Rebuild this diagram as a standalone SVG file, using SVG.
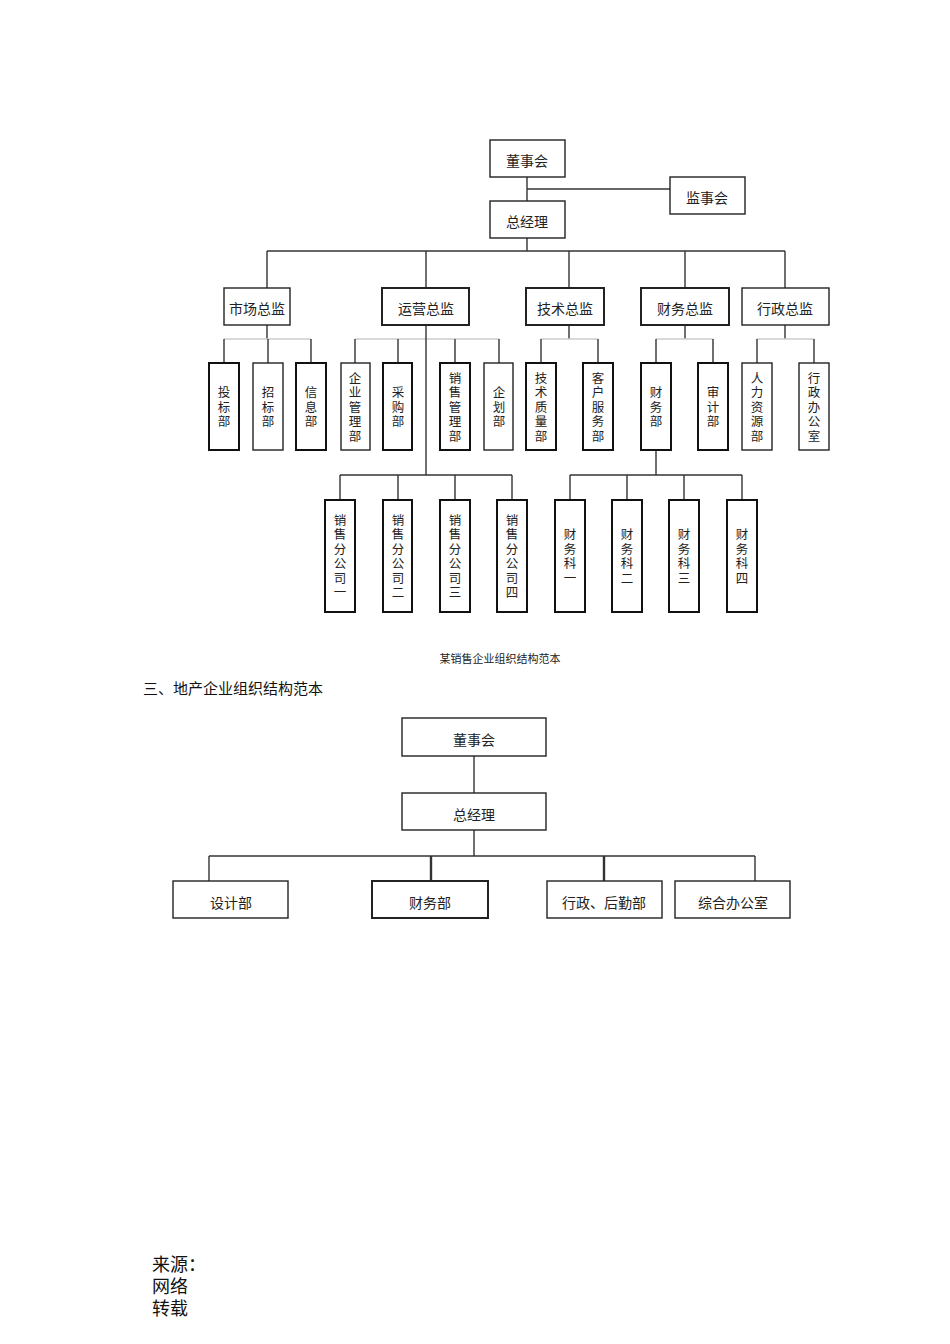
<svg xmlns="http://www.w3.org/2000/svg" width="950" height="1344" viewBox="0 0 950 1344">
<style>
.b{fill:#fff;stroke:#222;stroke-width:1.4}
.v{fill:#fff;stroke:#111;stroke-width:2}
.t{font-family:"Noto Sans CJK SC","Noto Sans",sans-serif;font-size:14px;fill:#222;text-anchor:middle}
g[id] tspan{font-size:12.5px}
.c line,.c polyline{stroke:#333;stroke-width:1.4;fill:none}
</style>
<rect width="950" height="1344" fill="#fff"/>
<g class="c" id="connectors">
<line x1="527" y1="177" x2="527" y2="201"/><line x1="527" y1="189" x2="670" y2="189"/>
<line x1="527" y1="238" x2="527" y2="251"/><line x1="267" y1="251" x2="785" y2="251"/>
<line x1="267" y1="251" x2="267" y2="288"/><line x1="426" y1="251" x2="426" y2="288"/><line x1="569" y1="251" x2="569" y2="288"/><line x1="685" y1="251" x2="685" y2="288"/><line x1="785" y1="251" x2="785" y2="288"/>
<line x1="267" y1="325" x2="267" y2="339"/><line x1="224" y1="339" x2="311" y2="339" style="stroke:#ccc"/>
<line x1="224" y1="339" x2="224" y2="363"/><line x1="268" y1="339" x2="268" y2="363"/><line x1="311" y1="339" x2="311" y2="363"/>
<line x1="355" y1="339" x2="499" y2="339" style="stroke:#ccc"/>
<line x1="355" y1="339" x2="355" y2="363"/><line x1="398" y1="339" x2="398" y2="363"/><line x1="455" y1="339" x2="455" y2="363"/><line x1="499" y1="339" x2="499" y2="363"/>
<line x1="426" y1="325" x2="426" y2="475"/>
<line x1="569" y1="325" x2="569" y2="339"/><line x1="541" y1="339" x2="598" y2="339" style="stroke:#ccc"/>
<line x1="541" y1="339" x2="541" y2="363"/><line x1="598" y1="339" x2="598" y2="363"/>
<line x1="685" y1="325" x2="685" y2="339"/><line x1="656" y1="339" x2="713" y2="339" style="stroke:#ccc"/>
<line x1="656" y1="339" x2="656" y2="363"/><line x1="713" y1="339" x2="713" y2="363"/>
<line x1="785" y1="325" x2="785" y2="339"/><line x1="757" y1="339" x2="814" y2="339" style="stroke:#ccc"/>
<line x1="757" y1="339" x2="757" y2="363"/><line x1="814" y1="339" x2="814" y2="363"/>
<line x1="340" y1="475" x2="512" y2="475"/>
<line x1="340" y1="475" x2="340" y2="500"/><line x1="398" y1="475" x2="398" y2="500"/><line x1="455" y1="475" x2="455" y2="500"/><line x1="512" y1="475" x2="512" y2="500"/>
<line x1="656" y1="450" x2="656" y2="475"/><line x1="570" y1="475" x2="742" y2="475"/>
<line x1="570" y1="475" x2="570" y2="500"/><line x1="627" y1="475" x2="627" y2="500"/><line x1="684" y1="475" x2="684" y2="500"/><line x1="742" y1="475" x2="742" y2="500"/>
<line x1="474" y1="756" x2="474" y2="793"/><line x1="474" y1="830" x2="474" y2="856"/>
<line x1="209" y1="856" x2="755" y2="856"/>
<line x1="209" y1="856" x2="209" y2="881"/><line x1="431" y1="856" x2="431" y2="881" style="stroke-width:2.4"/><line x1="604" y1="856" x2="604" y2="881" style="stroke-width:2.4"/><line x1="755" y1="856" x2="755" y2="881"/>
</g>
<g id="n1"><rect class="b" x="490" y="140" width="75" height="37"/><text class="t" x="527" y="166">董事会</text></g>
<g id="n2"><rect class="b" x="670" y="177" width="75" height="37"/><text class="t" x="707" y="203">监事会</text></g>
<g id="n3"><rect class="b" x="490" y="201" width="75" height="37"/><text class="t" x="527" y="227">总经理</text></g>
<g id="d1"><rect class="b" x="224" y="288" width="66" height="37"/><text class="t" x="257" y="314">市场总监</text></g>
<g id="d2"><rect class="b" x="382" y="288" width="87" height="37" style="stroke-width:2"/><text class="t" x="426" y="314">运营总监</text></g>
<g id="d3"><rect class="b" x="526" y="288" width="78" height="37" style="stroke-width:2"/><text class="t" x="565" y="314">技术总监</text></g>
<g id="d4"><rect class="b" x="641" y="288" width="88" height="37" style="stroke-width:2"/><text class="t" x="685" y="314">财务总监</text></g>
<g id="d5"><rect class="b" x="742" y="288" width="87" height="37"/><text class="t" x="785" y="314">行政总监</text></g>
<g id="s1"><rect class="v" x="209" y="363" width="30" height="87"/><text class="t"><tspan x="224" y="397">投</tspan><tspan x="224" y="411.5">标</tspan><tspan x="224" y="426">部</tspan></text></g>
<g id="s2"><rect class="b" x="253" y="363" width="30" height="87"/><text class="t"><tspan x="268" y="397">招</tspan><tspan x="268" y="411.5">标</tspan><tspan x="268" y="426">部</tspan></text></g>
<g id="s3"><rect class="v" x="296" y="363" width="30" height="87"/><text class="t"><tspan x="311" y="397">信</tspan><tspan x="311" y="411.5">息</tspan><tspan x="311" y="426">部</tspan></text></g>
<g id="s4"><rect class="b" x="341" y="363" width="29" height="87"/><text class="t"><tspan x="355" y="382.5">企</tspan><tspan x="355" y="397">业</tspan><tspan x="355" y="411.5">管</tspan><tspan x="355" y="426">理</tspan><tspan x="355" y="440.5">部</tspan></text></g>
<g id="s5"><rect class="v" x="383" y="363" width="29" height="87"/><text class="t"><tspan x="398" y="397">采</tspan><tspan x="398" y="411.5">购</tspan><tspan x="398" y="426">部</tspan></text></g>
<g id="s6"><rect class="v" x="440" y="363" width="30" height="87"/><text class="t"><tspan x="455" y="382.5">销</tspan><tspan x="455" y="397">售</tspan><tspan x="455" y="411.5">管</tspan><tspan x="455" y="426">理</tspan><tspan x="455" y="440.5">部</tspan></text></g>
<g id="s7"><rect class="b" x="484" y="363" width="29" height="87"/><text class="t"><tspan x="499" y="397">企</tspan><tspan x="499" y="411.5">划</tspan><tspan x="499" y="426">部</tspan></text></g>
<g id="s8"><rect class="v" x="526" y="363" width="30" height="87"/><text class="t"><tspan x="541" y="382.5">技</tspan><tspan x="541" y="397">术</tspan><tspan x="541" y="411.5">质</tspan><tspan x="541" y="426">量</tspan><tspan x="541" y="440.5">部</tspan></text></g>
<g id="s9"><rect class="v" x="583" y="363" width="30" height="87"/><text class="t"><tspan x="598" y="382.5">客</tspan><tspan x="598" y="397">户</tspan><tspan x="598" y="411.5">服</tspan><tspan x="598" y="426">务</tspan><tspan x="598" y="440.5">部</tspan></text></g>
<g id="s10"><rect class="v" x="641" y="363" width="30" height="87"/><text class="t"><tspan x="656" y="397">财</tspan><tspan x="656" y="411.5">务</tspan><tspan x="656" y="426">部</tspan></text></g>
<g id="s11"><rect class="v" x="698" y="363" width="30" height="87"/><text class="t"><tspan x="713" y="397">审</tspan><tspan x="713" y="411.5">计</tspan><tspan x="713" y="426">部</tspan></text></g>
<g id="s12"><rect class="b" x="742" y="363" width="30" height="87"/><text class="t"><tspan x="757" y="382.5">人</tspan><tspan x="757" y="397">力</tspan><tspan x="757" y="411.5">资</tspan><tspan x="757" y="426">源</tspan><tspan x="757" y="440.5">部</tspan></text></g>
<g id="s13"><rect class="b" x="799" y="363" width="30" height="87"/><text class="t"><tspan x="814" y="382.5">行</tspan><tspan x="814" y="397">政</tspan><tspan x="814" y="411.5">办</tspan><tspan x="814" y="426">公</tspan><tspan x="814" y="440.5">室</tspan></text></g>
<g id="b1"><rect class="v" x="325" y="500" width="30" height="112"/><text class="t"><tspan x="340" y="524.75">销</tspan><tspan x="340" y="539.25">售</tspan><tspan x="340" y="553.75">分</tspan><tspan x="340" y="568.25">公</tspan><tspan x="340" y="582.75">司</tspan><tspan x="340" y="597.25">一</tspan></text></g>
<g id="b2"><rect class="v" x="383" y="500" width="29" height="112"/><text class="t"><tspan x="398" y="524.75">销</tspan><tspan x="398" y="539.25">售</tspan><tspan x="398" y="553.75">分</tspan><tspan x="398" y="568.25">公</tspan><tspan x="398" y="582.75">司</tspan><tspan x="398" y="597.25">二</tspan></text></g>
<g id="b3"><rect class="v" x="440" y="500" width="30" height="112"/><text class="t"><tspan x="455" y="524.75">销</tspan><tspan x="455" y="539.25">售</tspan><tspan x="455" y="553.75">分</tspan><tspan x="455" y="568.25">公</tspan><tspan x="455" y="582.75">司</tspan><tspan x="455" y="597.25">三</tspan></text></g>
<g id="b4"><rect class="v" x="497" y="500" width="30" height="112"/><text class="t"><tspan x="512" y="524.75">销</tspan><tspan x="512" y="539.25">售</tspan><tspan x="512" y="553.75">分</tspan><tspan x="512" y="568.25">公</tspan><tspan x="512" y="582.75">司</tspan><tspan x="512" y="597.25">四</tspan></text></g>
<g id="f1"><rect class="v" x="555" y="500" width="30" height="112"/><text class="t"><tspan x="570" y="539.25">财</tspan><tspan x="570" y="553.75">务</tspan><tspan x="570" y="568.25">科</tspan><tspan x="570" y="582.75">一</tspan></text></g>
<g id="f2"><rect class="v" x="612" y="500" width="30" height="112"/><text class="t"><tspan x="627" y="539.25">财</tspan><tspan x="627" y="553.75">务</tspan><tspan x="627" y="568.25">科</tspan><tspan x="627" y="582.75">二</tspan></text></g>
<g id="f3"><rect class="v" x="669" y="500" width="30" height="112"/><text class="t"><tspan x="684" y="539.25">财</tspan><tspan x="684" y="553.75">务</tspan><tspan x="684" y="568.25">科</tspan><tspan x="684" y="582.75">三</tspan></text></g>
<g id="f4"><rect class="v" x="727" y="500" width="30" height="112"/><text class="t"><tspan x="742" y="539.25">财</tspan><tspan x="742" y="553.75">务</tspan><tspan x="742" y="568.25">科</tspan><tspan x="742" y="582.75">四</tspan></text></g>
<text class="t" x="500" y="663" style="font-size:11px">某销售企业组织结构范本</text>
<text x="143" y="694" style="font-family:'Noto Sans CJK SC',sans-serif;font-size:15px;fill:#111">三、地产企业组织结构范本</text>
<g id="m1"><rect class="b" x="402" y="718" width="144" height="38"/><text class="t" x="474" y="745">董事会</text></g>
<g id="m2"><rect class="b" x="402" y="793" width="144" height="37"/><text class="t" x="474" y="820">总经理</text></g>
<g id="m3"><rect class="b" x="173" y="881" width="115" height="37"/><text class="t" x="231" y="908">设计部</text></g>
<g id="m4"><rect class="b" x="372" y="881" width="116" height="37" style="stroke-width:2"/><text class="t" x="430" y="908">财务部</text></g>
<g id="m5"><rect class="b" x="547" y="881" width="115" height="37"/><text class="t" x="604" y="908">行政、后勤部</text></g>
<g id="m6"><rect class="b" x="675" y="881" width="115" height="37"/><text class="t" x="733" y="908">综合办公室</text></g>
<text style="font-family:'Noto Sans CJK SC',serif;font-size:18px;fill:#111"><tspan x="152" y="1271">来源：</tspan><tspan x="152" y="1293">网络</tspan><tspan x="152" y="1315">转载</tspan></text>
</svg>
